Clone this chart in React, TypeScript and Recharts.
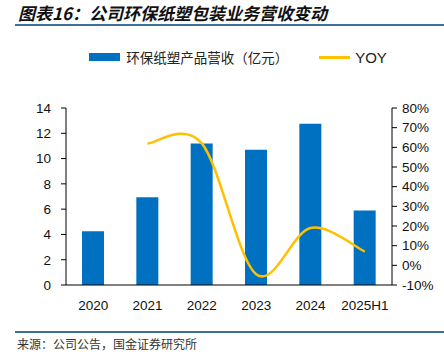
import React from "react";
import { Bar, ComposedChart, Legend, Line, XAxis, YAxis } from "recharts";

const years = ["2020", "2021", "2022", "2023", "2024", "2025H1"];
const revenue = [4.25, 6.95, 11.2, 10.7, 12.75, 5.9];
const yoy: (number | null)[] = [null, 62, 62, -4.5, 19, 7];
const leftTicks = [0, 2, 4, 6, 8, 10, 12, 14];
const rightTicks = [-10, 0, 10, 20, 30, 40, 50, 60, 70, 80];

const data = years.map((year, i) => ({ year, revenue: revenue[i], yoy: yoy[i] }));

const blue = "#0070C0";
const gold = "#FFC000";
const cjk = '"Noto Sans CJK SC", "Liberation Sans", sans-serif';
const latin = '"Liberation Sans", Arial, sans-serif';

// Excel-like smoothed line (Catmull-Rom through each point)
function excelSmooth(context: any) {
  let pts: [number, number][] = [];
  return {
    areaStart() {},
    areaEnd() {},
    lineStart() {
      pts = [];
    },
    point(x: number, y: number) {
      pts.push([x, y]);
    },
    lineEnd() {
      if (!pts.length) return;
      context.moveTo(pts[0][0], pts[0][1]);
      for (let i = 0; i < pts.length - 1; i++) {
        const p0 = pts[Math.max(i - 1, 0)];
        const p1 = pts[i];
        const p2 = pts[i + 1];
        const p3 = pts[Math.min(i + 2, pts.length - 1)];
        context.bezierCurveTo(
          p1[0] + (p2[0] - p0[0]) / 6,
          p1[1] + (p2[1] - p0[1]) / 6,
          p2[0] - (p3[0] - p1[0]) / 6,
          p2[1] - (p3[1] - p1[1]) / 6,
          p2[0],
          p2[1]
        );
      }
    },
  };
}

function LegendRow() {
  return (
    <div style={{ display: "flex", justifyContent: "center", alignItems: "center", fontFamily: cjk, fontSize: 13.5, color: "#222" }}>
      <span style={{ display: "inline-block", width: 31, height: 8, background: blue, marginRight: 6 }} />
      <span>环保纸塑产品营收（亿元）</span>
      <span style={{ display: "inline-block", width: 31, height: 3, background: gold, marginLeft: 31, marginRight: 5 }} />
      <span style={{ fontFamily: latin, fontSize: 15 }}>YOY</span>
    </div>
  );
}

export default function App() {
  return (
    <div style={{ position: "absolute", left: 0, top: 0, width: 444, height: 352, background: "#fff", overflow: "hidden" }}>
      <div style={{ position: "absolute", left: 18, top: 0, fontFamily: cjk, fontSize: 17, fontWeight: 700, fontStyle: "italic", color: "#111", whiteSpace: "nowrap" }}>
        图表16：公司环保纸塑包装业务营收变动
      </div>
      <div style={{ position: "absolute", left: 15, top: 24, width: 429, height: 2, background: "#3E7199" }} />

      <ComposedChart
        width={444}
        height={352}
        data={data}
        margin={{ top: 88, right: 0, bottom: 42, left: 0 }}
        barCategoryGap="30%"
      >
        <Legend
          verticalAlign="top"
          wrapperStyle={{ top: 47, left: 16, width: 444 }}
          content={() => <LegendRow />}
        />
        <XAxis
          dataKey="year"
          axisLine={{ stroke: "#000" }}
          tickLine={false}
          tick={{ fill: "#111", fontSize: 13.5, fontFamily: latin }}
          tickMargin={9}
          height={25}
          interval={0}
        />
        <YAxis
          yAxisId="left"
          domain={[0, 14]}
          ticks={leftTicks}
          interval={0}
          width={66}
          axisLine={{ stroke: "#000" }}
          tickLine={{ stroke: "#000" }}
          tickSize={5}
          tickMargin={10}
          tick={{ fill: "#111", fontSize: 13.5, fontFamily: latin }}
        />
        <YAxis
          yAxisId="right"
          orientation="right"
          domain={[-10, 80]}
          ticks={rightTicks}
          interval={0}
          width={52}
          axisLine={{ stroke: "#000" }}
          tickLine={{ stroke: "#000" }}
          tickSize={5}
          tickMargin={5}
          tickFormatter={(v: number) => `${v}%`}
          tick={{ fill: "#111", fontSize: 13.5, fontFamily: latin }}
        />
        <Bar yAxisId="left" dataKey="revenue" fill={blue} barSize={22} isAnimationActive={false} />
        <Line
          yAxisId="right"
          dataKey="yoy"
          type={excelSmooth as any}
          stroke={gold}
          strokeWidth={2.5}
          dot={false}
          activeDot={false}
          isAnimationActive={false}
        />
      </ComposedChart>

      <div style={{ position: "absolute", left: 15, top: 331, width: 429, height: 1.5, background: "#3E7199" }} />
      <div style={{ position: "absolute", left: 17, top: 335, fontFamily: cjk, fontSize: 12, color: "#333", whiteSpace: "nowrap" }}>
        来源：公司公告，国金证券研究所
      </div>
    </div>
  );
}
